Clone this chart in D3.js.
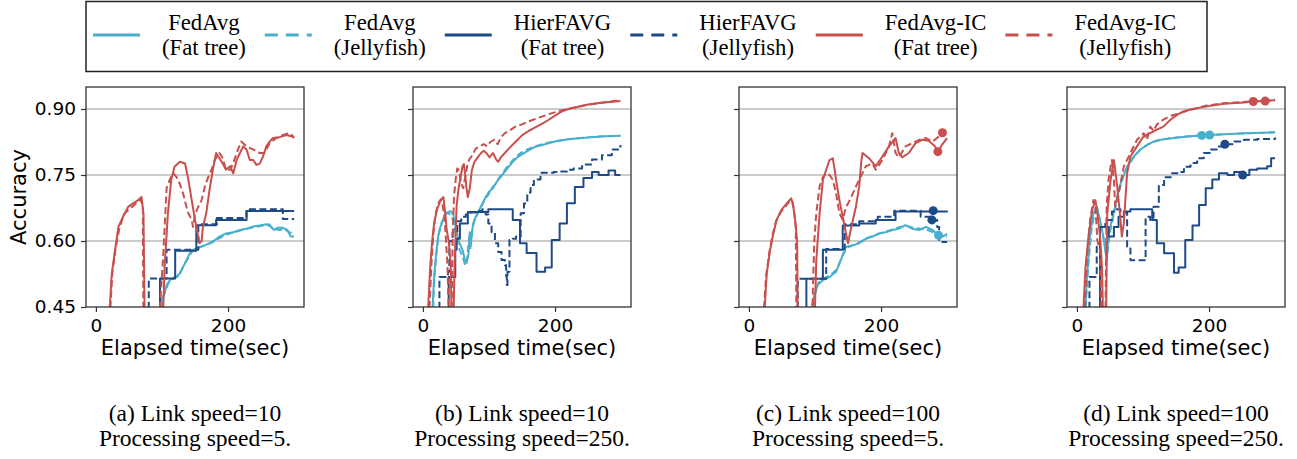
<!DOCTYPE html>
<html>
<head>
<meta charset="utf-8">
<script src="https://cdn.jsdelivr.net/npm/d3@7"></script>
<style>
body { margin: 0; background: #fff; }
svg { display: block; }
</style>
</head>
<body>
<script>
// ---- data: [elapsed time (sec), accuracy]; values below 0.45 leave the plot ----

// (a) link 10, processing 5
const a_fedFat = [[97,0.40],[99,0.465],[104,0.48],[107,0.50],[112,0.511],[122,0.52],[127,0.526],[132,0.541],[137,0.556],[142,0.572],[147,0.58],[155,0.585],[165,0.59],[172,0.595],[180,0.602],[187,0.61],[197,0.617],[208,0.62],[218,0.625],[228,0.628],[238,0.633],[248,0.635],[258,0.638],[265,0.632],[270,0.625],[275,0.63],[283,0.63],[290,0.625],[295,0.61],[300,0.61]];
const a_fedJelly = [[99,0.40],[101,0.47],[106,0.49],[110,0.505],[118,0.515],[125,0.52],[130,0.535],[135,0.55],[140,0.562],[145,0.575],[152,0.582],[160,0.588],[170,0.593],[178,0.598],[185,0.605],[195,0.613],[205,0.618],[215,0.622],[225,0.627],[235,0.63],[245,0.633],[255,0.636],[262,0.638],[268,0.628],[278,0.625],[285,0.628],[292,0.62],[300,0.618]];
const a_hierFat = [[96,0.40],[97,0.515],[120,0.578],[152,0.636],[182,0.648],[228,0.668],[300,0.668]];
const a_hierJelly = [[79,0.40],[80,0.515],[107,0.58],[155,0.638],[183,0.652],[228,0.672],[282,0.672],[283,0.65],[300,0.65]];
const a_icFat = [[20,0.40],[21,0.45],[24,0.526],[29,0.579],[34,0.632],[41,0.655],[49,0.678],[56,0.685],[64,0.693],[69,0.70],[72,0.663],[74,0.40],[100,0.40],[102,0.45],[104,0.541],[109,0.663],[114,0.739],[119,0.769],[127,0.78],[135,0.776],[140,0.739],[145,0.693],[150,0.648],[155,0.61],[157,0.595],[160,0.60],[162,0.632],[167,0.663],[172,0.716],[177,0.762],[182,0.80],[187,0.788],[192,0.776],[197,0.762],[203,0.77],[208,0.754],[213,0.784],[218,0.80],[223,0.815],[228,0.808],[233,0.784],[238,0.784],[243,0.773],[248,0.776],[253,0.792],[258,0.815],[263,0.826],[268,0.834],[278,0.836],[288,0.841],[296,0.838],[300,0.834]];
const a_icJelly = [[20,0.40],[22,0.45],[25,0.53],[30,0.585],[35,0.625],[42,0.66],[50,0.672],[57,0.68],[63,0.69],[67,0.695],[71,0.68],[72,0.40],[95,0.40],[97,0.45],[102,0.57],[107,0.72],[112,0.74],[117,0.754],[122,0.745],[127,0.73],[132,0.708],[137,0.678],[140,0.663],[145,0.648],[147,0.632],[150,0.66],[155,0.678],[160,0.693],[165,0.724],[170,0.745],[175,0.762],[180,0.784],[187,0.80],[192,0.788],[197,0.762],[203,0.762],[208,0.777],[213,0.80],[220,0.826],[228,0.815],[238,0.808],[248,0.80],[255,0.80],[263,0.822],[273,0.834],[283,0.841],[293,0.845],[300,0.836]];

// (b) link 10, processing 250
const b_fedFat = [[14,0.40],[15,0.46],[17,0.52],[20,0.57],[23,0.61],[26,0.63],[30,0.645],[34,0.66],[38,0.665],[42,0.668],[46,0.66],[50,0.63],[54,0.60],[57,0.59],[60,0.58],[63,0.56],[66,0.55],[69,0.57],[71,0.62],[73,0.60],[76,0.64],[80,0.655],[85,0.67],[90,0.685],[95,0.70],[100,0.712],[106,0.72],[112,0.735],[120,0.75],[128,0.765],[136,0.78],[143,0.79],[150,0.797],[160,0.806],[170,0.814],[185,0.82],[200,0.826],[220,0.831],[250,0.835],[275,0.838],[299,0.839]];
const b_fedJelly = [[15,0.40],[16,0.47],[18,0.53],[21,0.58],[24,0.615],[28,0.64],[32,0.655],[36,0.665],[41,0.66],[45,0.65],[49,0.62],[53,0.59],[57,0.575],[61,0.56],[64,0.545],[67,0.56],[70,0.61],[72,0.58],[75,0.63],[79,0.65],[84,0.665],[89,0.68],[94,0.695],[99,0.705],[104,0.72],[110,0.73],[116,0.745],[122,0.757],[128,0.77],[134,0.78],[140,0.79],[148,0.80],[158,0.808],[168,0.814],[185,0.822],[205,0.828],[230,0.833],[260,0.837],[299,0.839]];
const b_hierFat = [[38,0.40],[39,0.518],[49,0.58],[51,0.605],[56,0.64],[68,0.666],[99,0.672],[136,0.648],[147,0.595],[157,0.573],[172,0.53],[185,0.54],[195,0.602],[207,0.64],[218,0.686],[230,0.723],[243,0.743],[256,0.757],[266,0.75],[281,0.76],[291,0.75],[299,0.75]];
const b_hierJelly = [[24,0.40],[25,0.518],[38,0.53],[40,0.60],[45,0.62],[52,0.645],[58,0.655],[65,0.66],[72,0.665],[80,0.668],[90,0.672],[95,0.66],[99,0.64],[104,0.62],[109,0.595],[114,0.575],[119,0.557],[124,0.545],[126,0.52],[127,0.50],[128,0.53],[131,0.602],[136,0.605],[141,0.61],[148,0.663],[153,0.685],[158,0.71],[163,0.727],[168,0.74],[178,0.755],[188,0.755],[198,0.757],[208,0.758],[218,0.762],[228,0.765],[241,0.774],[256,0.785],[271,0.795],[286,0.808],[299,0.818]];
const b_icFat = [[7,0.40],[8,0.45],[11,0.54],[14,0.60],[17,0.64],[21,0.67],[26,0.69],[31,0.70],[34,0.66],[36,0.625],[39,0.60],[42,0.55],[44,0.40],[46,0.40],[48,0.55],[51,0.68],[54,0.72],[57,0.745],[60,0.77],[62,0.775],[64,0.75],[66,0.72],[68,0.70],[71,0.72],[74,0.76],[78,0.78],[83,0.79],[88,0.80],[92,0.805],[96,0.80],[101,0.79],[106,0.80],[111,0.785],[114,0.78],[118,0.79],[124,0.80],[130,0.81],[140,0.825],[150,0.84],[160,0.85],[170,0.858],[180,0.866],[190,0.875],[200,0.885],[211,0.895],[220,0.90],[235,0.905],[250,0.91],[270,0.914],[299,0.918]];
const b_icJelly = [[9,0.40],[10,0.45],[13,0.55],[16,0.62],[19,0.66],[23,0.685],[27,0.695],[30,0.68],[33,0.65],[35,0.60],[37,0.55],[39,0.45],[40,0.40],[43,0.40],[45,0.60],[47,0.70],[50,0.745],[52,0.765],[55,0.76],[58,0.73],[61,0.72],[64,0.745],[67,0.77],[70,0.785],[75,0.795],[80,0.81],[86,0.815],[92,0.82],[97,0.815],[102,0.825],[108,0.83],[113,0.82],[118,0.835],[124,0.845],[130,0.85],[140,0.86],[150,0.865],[160,0.872],[175,0.88],[190,0.888],[205,0.895],[220,0.90],[240,0.907],[260,0.912],[280,0.916],[299,0.92]];

// (c) link 100, processing 5
const c_fedFat = [[94,0.40],[95,0.45],[97,0.465],[104,0.50],[112,0.511],[122,0.518],[132,0.53],[140,0.56],[147,0.587],[157,0.59],[167,0.595],[177,0.605],[187,0.61],[197,0.617],[207,0.62],[217,0.625],[227,0.628],[237,0.636],[247,0.628],[258,0.625],[268,0.632],[278,0.625],[287,0.613],[293,0.61],[300,0.616]];
const c_fedJelly = [[96,0.40],[98,0.47],[105,0.505],[113,0.515],[123,0.522],[133,0.535],[141,0.565],[149,0.585],[159,0.592],[169,0.598],[179,0.607],[189,0.612],[199,0.618],[209,0.622],[219,0.627],[229,0.632],[239,0.634],[249,0.63],[259,0.628],[269,0.626],[279,0.62],[288,0.61],[300,0.61]];
const c_hierFat = [[86,0.40],[87,0.514],[112,0.58],[142,0.635],[167,0.64],[192,0.648],[222,0.667],[300,0.669]];
const c_hierJelly = [[73,0.40],[74,0.514],[117,0.582],[145,0.638],[167,0.645],[195,0.655],[220,0.669],[258,0.669],[260,0.655],[277,0.648],[285,0.632],[288,0.598],[300,0.598]];
const c_icFat = [[23,0.40],[24,0.45],[27,0.526],[32,0.579],[37,0.617],[42,0.648],[49,0.67],[57,0.685],[64,0.697],[67,0.68],[70,0.648],[73,0.60],[74,0.40],[99,0.40],[100,0.45],[102,0.556],[107,0.663],[112,0.739],[117,0.762],[122,0.784],[127,0.788],[130,0.76],[132,0.739],[137,0.693],[142,0.655],[147,0.617],[150,0.595],[155,0.632],[162,0.678],[167,0.724],[170,0.78],[172,0.80],[182,0.788],[192,0.77],[202,0.792],[212,0.815],[222,0.834],[227,0.80],[232,0.79],[242,0.80],[252,0.822],[262,0.83],[272,0.828],[282,0.815],[286,0.803],[292,0.818],[300,0.834]];
const c_icJelly = [[22,0.40],[23,0.45],[26,0.52],[31,0.575],[36,0.615],[41,0.645],[48,0.665],[56,0.68],[63,0.693],[66,0.69],[69,0.66],[71,0.63],[72,0.40],[96,0.40],[97,0.50],[99,0.60],[102,0.663],[107,0.724],[112,0.745],[117,0.754],[122,0.75],[127,0.739],[132,0.708],[137,0.663],[142,0.648],[147,0.678],[150,0.685],[155,0.70],[162,0.724],[167,0.739],[177,0.77],[187,0.776],[192,0.762],[202,0.784],[212,0.815],[217,0.845],[222,0.80],[227,0.79],[237,0.815],[247,0.822],[258,0.83],[268,0.834],[278,0.826],[288,0.838],[293,0.846]];

// (d) link 100, processing 250
const d_fedFat = [[12,0.40],[13,0.45],[15,0.511],[20,0.617],[25,0.663],[30,0.678],[35,0.648],[40,0.61],[45,0.556],[48,0.617],[53,0.648],[58,0.678],[63,0.716],[68,0.739],[76,0.769],[86,0.792],[96,0.808],[106,0.818],[116,0.826],[126,0.83],[141,0.833],[157,0.836],[172,0.838],[190,0.84],[215,0.842],[253,0.845],[300,0.847]];
const d_fedJelly = [[13,0.40],[14,0.47],[17,0.54],[22,0.625],[27,0.665],[31,0.672],[36,0.64],[41,0.60],[46,0.57],[50,0.62],[55,0.655],[60,0.69],[65,0.72],[70,0.745],[78,0.772],[88,0.795],[98,0.81],[108,0.82],[118,0.826],[130,0.831],[145,0.834],[160,0.837],[180,0.839],[201,0.841],[230,0.843],[260,0.845],[300,0.847]];
const d_hierFat = [[34,0.40],[35,0.632],[48,0.61],[56,0.632],[63,0.655],[71,0.667],[81,0.672],[114,0.648],[121,0.595],[132,0.572],[147,0.528],[154,0.54],[164,0.602],[175,0.635],[185,0.682],[195,0.72],[205,0.74],[215,0.754],[228,0.75],[238,0.757],[252,0.75],[261,0.762],[273,0.765],[288,0.77],[294,0.788],[300,0.788]];
const d_hierJelly = [[18,0.40],[19,0.518],[30,0.587],[35,0.632],[43,0.648],[53,0.667],[58,0.672],[66,0.665],[76,0.583],[81,0.556],[101,0.556],[104,0.655],[111,0.648],[116,0.678],[124,0.727],[132,0.745],[142,0.754],[152,0.757],[162,0.769],[172,0.777],[182,0.788],[192,0.80],[203,0.808],[213,0.815],[225,0.82],[238,0.826],[253,0.83],[273,0.832],[300,0.835]];
const d_icFat = [[9,0.40],[10,0.45],[13,0.541],[18,0.617],[23,0.67],[28,0.693],[31,0.663],[35,0.61],[38,0.541],[40,0.40],[44,0.40],[46,0.663],[51,0.739],[56,0.784],[61,0.724],[66,0.648],[68,0.61],[71,0.64],[76,0.754],[81,0.792],[91,0.815],[101,0.838],[111,0.845],[121,0.853],[131,0.86],[142,0.876],[152,0.887],[162,0.895],[172,0.899],[182,0.902],[197,0.906],[222,0.912],[253,0.915],[267,0.917],[300,0.92]];
const d_icJelly = [[11,0.40],[12,0.45],[15,0.56],[20,0.648],[25,0.693],[28,0.68],[31,0.60],[35,0.58],[37,0.45],[38,0.40],[43,0.40],[45,0.678],[48,0.74],[51,0.769],[53,0.784],[56,0.739],[58,0.678],[63,0.708],[71,0.769],[81,0.80],[91,0.83],[101,0.845],[106,0.83],[111,0.86],[116,0.85],[121,0.865],[131,0.876],[141,0.884],[157,0.891],[172,0.898],[197,0.908],[222,0.913],[253,0.916],[285,0.919],[300,0.921]];

// convergence dots: [series, time, accuracy]
const c_dots = [["icJelly",293,0.846],["icFat",286,0.803],["hierFat",279,0.669],["hierJelly",277,0.648],["fedFat",287,0.613]];
const d_dots = [["icFat",267,0.917],["icJelly",285,0.918],["fedFat",189,0.84],["fedJelly",201,0.841],["hierJelly",224,0.82],["hierFat",251,0.75]];

const seriesKeys = ["fedFat","fedJelly","hierFat","hierJelly","icFat","icJelly"];
const legendTop = ["FedAvg","FedAvg","HierFAVG","HierFAVG","FedAvg-IC","FedAvg-IC"];
const legendBottom = ["(Fat tree)","(Jellyfish)","(Fat tree)","(Jellyfish)","(Fat tree)","(Jellyfish)"];
const captionLine1 = ["(a) Link speed=10","(b) Link speed=10","(c) Link speed=100","(d) Link speed=100"];
const captionLine2 = ["Processing speed=5.","Processing speed=250.","Processing speed=5.","Processing speed=250."];
const yTicks = [0.45, 0.60, 0.75, 0.90];
const gridTicks = [0.60, 0.75, 0.90];
const xTicks = [0, 200];

const panelData = [
  {fedFat: a_fedFat, fedJelly: a_fedJelly, hierFat: a_hierFat, hierJelly: a_hierJelly, icFat: a_icFat, icJelly: a_icJelly, dots: []},
  {fedFat: b_fedFat, fedJelly: b_fedJelly, hierFat: b_hierFat, hierJelly: b_hierJelly, icFat: b_icFat, icJelly: b_icJelly, dots: []},
  {fedFat: c_fedFat, fedJelly: c_fedJelly, hierFat: c_hierFat, hierJelly: c_hierJelly, icFat: c_icFat, icJelly: c_icJelly, dots: c_dots},
  {fedFat: d_fedFat, fedJelly: d_fedJelly, hierFat: d_hierFat, hierJelly: d_hierJelly, icFat: d_icFat, icJelly: d_icJelly, dots: d_dots}
];

// ---- styles ----
const lightBlue = "#4aafcc", darkBlue = "#1e4a86", red = "#c84f4c";
const style = {
  fedFat:    {color: lightBlue, dash: null,    step: false},
  fedJelly:  {color: lightBlue, dash: "7,3.5", step: false},
  hierFat:   {color: darkBlue,  dash: null,    step: true},
  hierJelly: {color: darkBlue,  dash: "7,3.5", step: true},
  icFat:     {color: red,       dash: null,    step: false},
  icJelly:   {color: red,       dash: "7,3.5", step: false}
};

const width = 1297, height = 459;
const svg = d3.select("body").append("svg")
  .attr("width", width)
  .attr("height", height)
  .attr("viewBox", [0, 0, width, height]);

const panelLeft = [86, 413, 739, 1067];
const pw = 218, plotTop = 87, ph = 220;
const sans = "'DejaVu Sans', sans-serif";
const serif = "'Liberation Serif', 'Times New Roman', serif";

panelData.forEach((pd, i) => {
  const left = panelLeft[i];
  const x = d3.scaleLinear().domain([-15, 315]).range([left, left + pw]);
  const y = d3.scaleLinear().domain([0.45, 0.95]).range([plotTop + ph, plotTop]);
  const g = svg.append("g");

  g.append("clipPath").attr("id", "clip" + i)
    .append("rect").attr("x", left).attr("y", plotTop).attr("width", pw).attr("height", ph);

  // grid
  g.selectAll(".grid").data(gridTicks).enter().append("line")
    .attr("x1", left).attr("x2", left + pw)
    .attr("y1", d => y(d)).attr("y2", d => y(d))
    .attr("stroke", "#999").attr("stroke-width", 1);

  const plot = g.append("g").attr("clip-path", `url(#clip${i})`);
  seriesKeys.forEach(k => {
    const st = style[k];
    const line = d3.line()
      .x(d => x(d[0])).y(d => y(d[1]))
      .curve(st.step ? d3.curveStepAfter : d3.curveLinear);
    plot.append("path")
      .datum(pd[k])
      .attr("fill", "none")
      .attr("stroke", st.color)
      .attr("stroke-width", 2)
      .attr("stroke-dasharray", st.dash)
      .attr("stroke-linejoin", "round")
      .attr("d", line);
  });
  plot.selectAll(".dot").data(pd.dots).enter().append("circle")
    .attr("cx", d => x(d[1])).attr("cy", d => y(d[2]))
    .attr("r", 4.5)
    .attr("fill", d => style[d[0]].color);

  // frame
  g.append("rect").attr("x", left).attr("y", plotTop).attr("width", pw).attr("height", ph)
    .attr("fill", "none").attr("stroke", "#333").attr("stroke-width", 1.3);

  // axes
  const yAxis = g.append("g").attr("transform", `translate(${left},0)`)
    .call(d3.axisLeft(y).tickValues(yTicks).tickSize(5).tickPadding(5)
      .tickFormat(i === 0 ? d3.format(".2f") : () => ""));
  const xAxis = g.append("g").attr("transform", `translate(0,${plotTop + ph})`)
    .call(d3.axisBottom(x).tickValues(xTicks).tickSize(5).tickPadding(7));
  [yAxis, xAxis].forEach(ax => {
    ax.select(".domain").remove();
    ax.selectAll("line").attr("stroke", "#333").attr("stroke-width", 1.2);
    ax.selectAll("text").attr("font-family", sans).attr("font-size", 18.5).attr("fill", "#000");
  });

  g.append("text")
    .attr("x", left + pw / 2).attr("y", 355)
    .attr("text-anchor", "middle")
    .attr("font-family", sans).attr("font-size", 21)
    .text("Elapsed time(sec)");

  if (i === 0) {
    g.append("text")
      .attr("transform", `translate(26,${plotTop + ph / 2}) rotate(-90)`)
      .attr("text-anchor", "middle")
      .attr("font-family", sans).attr("font-size", 21)
      .text("Accuracy");
  }

  g.append("text").attr("x", left + pw / 2).attr("y", 421)
    .attr("text-anchor", "middle").attr("font-family", serif).attr("font-size", 23.5)
    .text(captionLine1[i]);
  g.append("text").attr("x", left + pw / 2).attr("y", 446)
    .attr("text-anchor", "middle").attr("font-family", serif).attr("font-size", 23.5)
    .text(captionLine2[i]);
});

// ---- legend ----
const legend = svg.append("g");
legend.append("rect")
  .attr("x", 86).attr("y", 1.5).attr("width", 1121).attr("height", 70)
  .attr("fill", "#fff").attr("stroke", "#222").attr("stroke-width", 1.5);

let lx = 93;
seriesKeys.forEach((k, j) => {
  const st = style[k];
  legend.append("line")
    .attr("x1", lx).attr("x2", lx + 47).attr("y1", 35).attr("y2", 35)
    .attr("stroke", st.color).attr("stroke-width", 3)
    .attr("stroke-dasharray", st.dash ? "13,8" : null);
  const tx = lx + 47 + 22;
  const t1 = legend.append("text").attr("y", 30)
    .attr("font-family", serif).attr("font-size", 22.7).attr("text-anchor", "middle")
    .text(legendTop[j]);
  const t2 = legend.append("text").attr("y", 55)
    .attr("font-family", serif).attr("font-size", 22.7).attr("text-anchor", "middle")
    .text(legendBottom[j]);
  const w = Math.max(t1.node().getComputedTextLength(), t2.node().getComputedTextLength());
  t1.attr("x", tx + w / 2);
  t2.attr("x", tx + w / 2);
  lx = tx + w + 19;
});
</script>
</body>
</html>
